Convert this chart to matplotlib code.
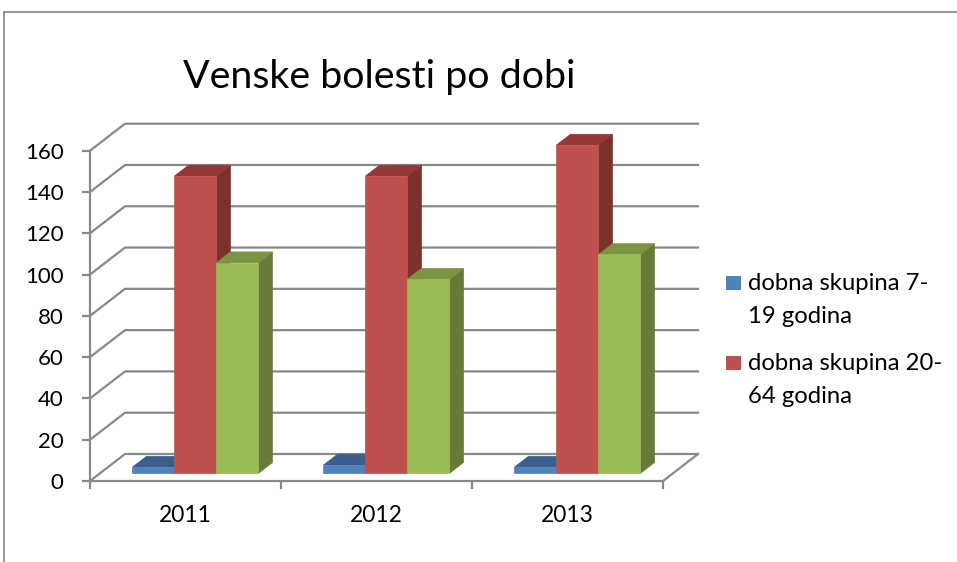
import matplotlib
matplotlib.use('Agg')
import matplotlib.pyplot as plt
from matplotlib.patches import Polygon, Rectangle
from matplotlib.lines import Line2D

'''
Venske bolesti po dobi - 3D style clustered columns
'''

years = ['2011', '2012', '2013']
series_names = [['dobna skupina 7-', '19 godina'], ['dobna skupina 20-', '64 godina'], ['dobna skupina 65+']]
blue_vals = [3, 4, 3]
red_vals = [144, 144, 159]
green_vals = [102, 94, 106]
yticks = [0, 20, 40, 60, 80, 100, 120, 140, 160]

plt.rcParams['font.family'] = ['Lato', 'DejaVu Sans']

W, H = 957, 562
fig = plt.figure(figsize=(W/100, H/100), dpi=100)
fig.patch.set_facecolor('white')

# front plane of the plot box in pixels
left_px, right_px, bot_px, top_px = 90, 663, 481, 150.7
ax = fig.add_axes([left_px/W, 1-bot_px/H, (right_px-left_px)/W, (bot_px-top_px)/H])
ax.set_xlim(0, 3)
ax.set_ylim(0, 160)
ax.patch.set_alpha(0)

px_x = (right_px-left_px)/3.0
px_y = (bot_px-top_px)/160.0
DX = 35/px_x      # full depth offset in data units
DY = 27/px_y

def P(x, v, d):
    return (x + d*DX, v + d*DY)

grid_c = '#898989'

# wall gridlines
for v in yticks:
    ax.add_line(Line2D([0, DX, 3+DX], [v, v+DY, v+DY], color=grid_c, lw=1.6,
                       clip_on=False, zorder=1))
ax.add_line(Line2D([3, 3+DX], [0, DY], color=grid_c, lw=1.6, clip_on=False, zorder=1))

# bars
colors = [('#4F81BD', '#3A5F8C', '#2E4D73'),
          ('#C0504D', '#953937', '#7D302E'),
          ('#9BBB59', '#7A9441', '#677A37')]
w = 42/px_x
d0, d1 = 0.285, 0.685
z = 3
for i in range(3):
    vals = [blue_vals[i], red_vals[i], green_vals[i]]
    for j, v in enumerate(vals):
        x0 = i + 0.5 + (j-1.5)*w
        x1 = x0 + w
        front_c, top_c, side_c = colors[j]
        side = [P(x1, 0, d0), P(x1, 0, d1), P(x1, v, d1), P(x1, v, d0)]
        top = [P(x0, v, d0), P(x1, v, d0), P(x1, v, d1), P(x0, v, d1)]
        front = [P(x0, 0, d0), P(x1, 0, d0), P(x1, v, d0), P(x0, v, d0)]
        for pts, c in [(side, side_c), (top, top_c), (front, front_c)]:
            ax.add_patch(Polygon(pts, closed=True, facecolor=c, edgecolor=c,
                                 lw=0.5, clip_on=False, zorder=z))
            z += 1

# axes
for s in ['top', 'right']:
    ax.spines[s].set_visible(False)
for s in ['left', 'bottom']:
    ax.spines[s].set_color(grid_c)
    ax.spines[s].set_linewidth(1.6)
    ax.spines[s].set_zorder(2)
ax.set_yticks(yticks)
ax.set_yticklabels([str(t) for t in yticks])
ax.tick_params(axis='y', direction='out', length=5.8, width=1.6, color=grid_c,
               pad=13.2, labelsize=16)
ax.set_xticks([0, 1, 2, 3])
ax.set_xticklabels([])
ax.set_xticks([0.5, 1.5, 2.5], minor=True)
ax.set_xticklabels(years, minor=True)
ax.tick_params(axis='x', which='major', direction='out', length=5.8, width=1.6, color=grid_c)
ax.tick_params(axis='x', which='minor', length=0, pad=17, labelsize=16.4)

# title
fig.text(379/W, 1-77/H, 'Venske bolesti po dobi', fontsize=28.4, ha='center', va='center')

# legend (first two series)
leg = [(series_names[0], colors[0][0], 283), (series_names[1], colors[1][0], 363)]
for lines, c, yc in leg:
    fig.patches.append(Rectangle((726/W, 1-(yc+7.3)/H), 14.5/W, 14.5/H,
                                 transform=fig.transFigure, facecolor=c, edgecolor='none'))
    for k, txt in enumerate(lines):
        fig.text(748/W, 1-(yc+k*33.5)/H, txt, fontsize=17.2, ha='left', va='center')

# outer frame
fig.add_artist(Line2D([4/W, 4/W], [0, 1-12/H], color='#868686', lw=1.2))
fig.add_artist(Line2D([4/W, 1], [1-12/H, 1-12/H], color='#868686', lw=1.2))

fig.savefig('out.png', dpi=100)
